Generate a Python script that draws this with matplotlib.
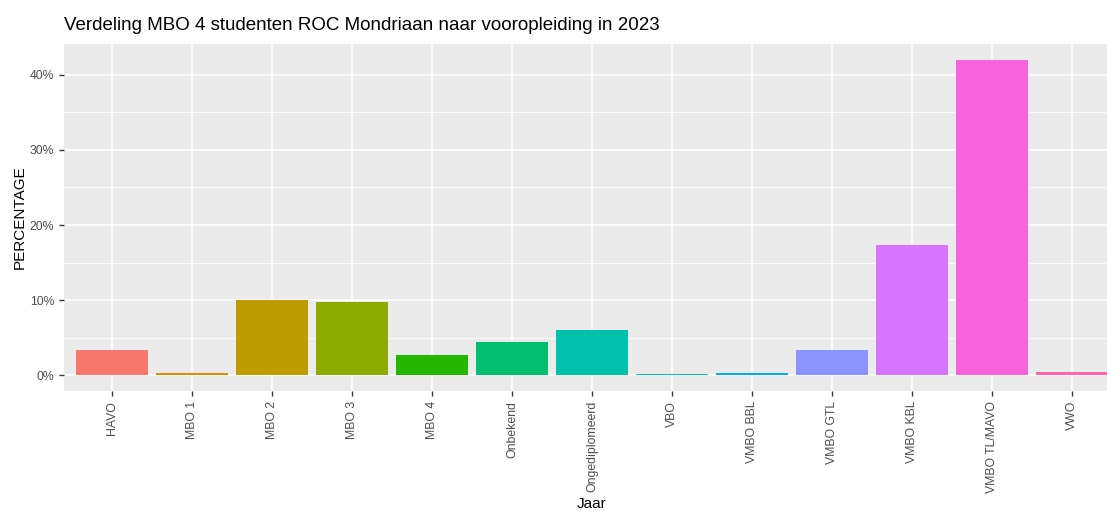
import matplotlib
matplotlib.use("Agg")
import matplotlib.pyplot as plt
from matplotlib.ticker import FuncFormatter, MultipleLocator

plt.rcParams['font.family'] = ['Liberation Sans', 'DejaVu Sans']

categories = ["HAVO", "MBO 1", "MBO 2", "MBO 3", "MBO 4", "Onbekend", "Ongediplomeerd",
              "VBO", "VMBO BBL", "VMBO GTL", "VMBO KBL", "VMBO TL/MAVO", "VWO"]
percentages = [3.3, 0.3, 10.0, 9.8, 2.7, 4.4, 6.0, 0.1, 0.25, 3.4, 17.3, 42.0, 0.45]
colors = ["#F8766D", "#E18A00", "#BE9C00", "#8CAB00", "#24B700", "#00BE70", "#00C1AB",
          "#00BBDA", "#00ACFC", "#8B93FF", "#D575FE", "#F962DD", "#FF65AC"]

W, H = 1107, 511
fig = plt.figure(figsize=(W / 100, H / 100), dpi=100)
ax = fig.add_axes([64 / W, 1 - 391 / H, (1120 - 64) / W, (391 - 44) / H])
ax.set_facecolor("#EBEBEB")

x = list(range(len(categories)))
ax.bar(x, percentages, width=0.9, color=colors, zorder=3)

ax.set_xlim(-0.6, len(categories) - 1 + 0.6)
ymax = max(percentages)
ax.set_ylim(-0.05 * ymax, ymax * 1.05)

ax.yaxis.set_major_locator(MultipleLocator(10))
ax.yaxis.set_minor_locator(MultipleLocator(5))
ax.yaxis.set_major_formatter(FuncFormatter(lambda v, p: f"{int(round(v))}%"))
ax.grid(which="major", color="white", linewidth=1.1, zorder=0)
ax.grid(which="minor", axis="y", color="white", linewidth=0.55, zorder=0)
ax.tick_params(which="minor", length=0)
ax.tick_params(which="major", length=3.5, width=1, color="#333333",
               labelcolor="#4D4D4D", labelsize=8.8)

ax.set_xticks(x)
ax.set_xticklabels(categories, rotation=90)

for s in ax.spines.values():
    s.set_visible(False)

ax.set_ylabel("PERCENTAGE", fontsize=11, labelpad=2.5)
ax.set_xlabel("Jaar", fontsize=11, va="top")
ax.xaxis.set_label_coords(592 / W, 1 - 497 / H, transform=fig.transFigure)
fig.text(64 / W, 1 - 26 / H, "Verdeling MBO 4 studenten ROC Mondriaan naar vooropleiding in 2023",
         fontsize=13.5, va="center", ha="left")

fig.savefig("out.png", dpi=100)
